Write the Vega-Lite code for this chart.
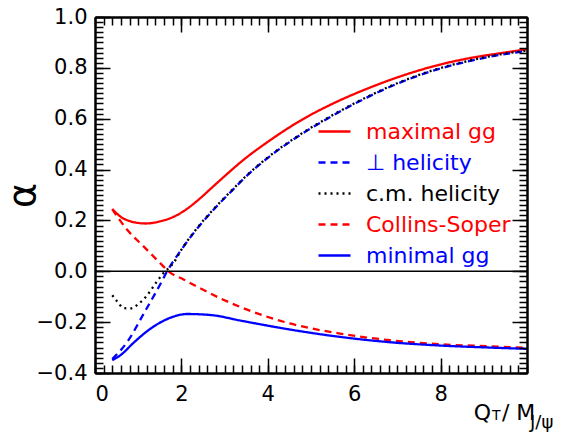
{
  "$schema": "https://vega.github.io/schema/vega-lite/v6.json",
  "width": 432,
  "height": 356,
  "autosize": {"type": "none"},
  "padding": {"left": 95, "top": 17, "right": 43, "bottom": 64},
  "config": {
    "view": {"stroke": null},
    "axis": {"grid": false, "domainColor": "black", "domainWidth": 2}
  },
  "data": {"values": [{"k": 1}]},
  "datasets": {
    "curves": [
      {"s": "maximal gg", "x": 0.4, "y": 0.245},
      {"s": "maximal gg", "x": 0.59, "y": 0.215},
      {"s": "maximal gg", "x": 0.83, "y": 0.196},
      {"s": "maximal gg", "x": 1.0, "y": 0.19},
      {"s": "maximal gg", "x": 1.17, "y": 0.188},
      {"s": "maximal gg", "x": 1.5, "y": 0.196},
      {"s": "maximal gg", "x": 1.83, "y": 0.215},
      {"s": "maximal gg", "x": 2.1, "y": 0.242},
      {"s": "maximal gg", "x": 2.4, "y": 0.282},
      {"s": "maximal gg", "x": 2.7, "y": 0.328},
      {"s": "maximal gg", "x": 3.0, "y": 0.374},
      {"s": "maximal gg", "x": 3.45, "y": 0.44},
      {"s": "maximal gg", "x": 4.0, "y": 0.509},
      {"s": "maximal gg", "x": 4.75, "y": 0.592},
      {"s": "maximal gg", "x": 5.5, "y": 0.659},
      {"s": "maximal gg", "x": 6.3, "y": 0.718},
      {"s": "maximal gg", "x": 7.06, "y": 0.766},
      {"s": "maximal gg", "x": 7.83, "y": 0.806},
      {"s": "maximal gg", "x": 8.6, "y": 0.836},
      {"s": "maximal gg", "x": 9.4, "y": 0.858},
      {"s": "maximal gg", "x": 10, "y": 0.873},

      {"s": "⊥ helicity", "x": 0.4, "y": -0.345},
      {"s": "⊥ helicity", "x": 0.75, "y": -0.277},
      {"s": "⊥ helicity", "x": 1.13, "y": -0.166},
      {"s": "⊥ helicity", "x": 1.52, "y": -0.048},
      {"s": "⊥ helicity", "x": 1.67, "y": 0.0},
      {"s": "⊥ helicity", "x": 2.0, "y": 0.085},
      {"s": "⊥ helicity", "x": 2.29, "y": 0.152},
      {"s": "⊥ helicity", "x": 2.83, "y": 0.258},
      {"s": "⊥ helicity", "x": 3.2, "y": 0.322},
      {"s": "⊥ helicity", "x": 3.45, "y": 0.365},
      {"s": "⊥ helicity", "x": 3.97, "y": 0.442},
      {"s": "⊥ helicity", "x": 4.75, "y": 0.536},
      {"s": "⊥ helicity", "x": 5.52, "y": 0.614},
      {"s": "⊥ helicity", "x": 6.29, "y": 0.683},
      {"s": "⊥ helicity", "x": 7.06, "y": 0.742},
      {"s": "⊥ helicity", "x": 7.83, "y": 0.789},
      {"s": "⊥ helicity", "x": 8.6, "y": 0.824},
      {"s": "⊥ helicity", "x": 9.38, "y": 0.851},
      {"s": "⊥ helicity", "x": 10, "y": 0.866},

      {"s": "c.m. helicity", "x": 0.4, "y": -0.094},
      {"s": "c.m. helicity", "x": 0.52, "y": -0.12},
      {"s": "c.m. helicity", "x": 0.67, "y": -0.145},
      {"s": "c.m. helicity", "x": 0.83, "y": -0.146},
      {"s": "c.m. helicity", "x": 1.02, "y": -0.126},
      {"s": "c.m. helicity", "x": 1.21, "y": -0.094},
      {"s": "c.m. helicity", "x": 1.4, "y": -0.048},
      {"s": "c.m. helicity", "x": 1.56, "y": -0.012},
      {"s": "c.m. helicity", "x": 1.83, "y": 0.036},
      {"s": "c.m. helicity", "x": 2.0, "y": 0.085},
      {"s": "c.m. helicity", "x": 2.29, "y": 0.154},
      {"s": "c.m. helicity", "x": 2.83, "y": 0.26},
      {"s": "c.m. helicity", "x": 3.2, "y": 0.324},
      {"s": "c.m. helicity", "x": 3.45, "y": 0.367},
      {"s": "c.m. helicity", "x": 3.97, "y": 0.444},
      {"s": "c.m. helicity", "x": 4.75, "y": 0.538},
      {"s": "c.m. helicity", "x": 5.52, "y": 0.616},
      {"s": "c.m. helicity", "x": 6.29, "y": 0.685},
      {"s": "c.m. helicity", "x": 7.06, "y": 0.744},
      {"s": "c.m. helicity", "x": 7.83, "y": 0.791},
      {"s": "c.m. helicity", "x": 8.6, "y": 0.826},
      {"s": "c.m. helicity", "x": 9.38, "y": 0.853},
      {"s": "c.m. helicity", "x": 10, "y": 0.868},

      {"s": "Collins-Soper", "x": 0.4, "y": 0.244},
      {"s": "Collins-Soper", "x": 0.75, "y": 0.162},
      {"s": "Collins-Soper", "x": 1.13, "y": 0.097},
      {"s": "Collins-Soper", "x": 1.52, "y": 0.03},
      {"s": "Collins-Soper", "x": 1.7, "y": 0.0},
      {"s": "Collins-Soper", "x": 2.06, "y": -0.033},
      {"s": "Collins-Soper", "x": 2.29, "y": -0.054},
      {"s": "Collins-Soper", "x": 2.91, "y": -0.107},
      {"s": "Collins-Soper", "x": 3.4, "y": -0.143},
      {"s": "Collins-Soper", "x": 4.51, "y": -0.205},
      {"s": "Collins-Soper", "x": 5.67, "y": -0.245},
      {"s": "Collins-Soper", "x": 6.83, "y": -0.271},
      {"s": "Collins-Soper", "x": 7.99, "y": -0.287},
      {"s": "Collins-Soper", "x": 9.14, "y": -0.295},
      {"s": "Collins-Soper", "x": 10, "y": -0.301},

      {"s": "minimal gg", "x": 0.4, "y": -0.35},
      {"s": "minimal gg", "x": 0.59, "y": -0.33},
      {"s": "minimal gg", "x": 0.9, "y": -0.28},
      {"s": "minimal gg", "x": 1.29, "y": -0.225},
      {"s": "minimal gg", "x": 1.67, "y": -0.188},
      {"s": "minimal gg", "x": 2.14, "y": -0.168},
      {"s": "minimal gg", "x": 2.68, "y": -0.172},
      {"s": "minimal gg", "x": 3.4, "y": -0.195},
      {"s": "minimal gg", "x": 4.51, "y": -0.229},
      {"s": "minimal gg", "x": 5.67, "y": -0.258},
      {"s": "minimal gg", "x": 6.83, "y": -0.279},
      {"s": "minimal gg", "x": 7.99, "y": -0.292},
      {"s": "minimal gg", "x": 9.14, "y": -0.3},
      {"s": "minimal gg", "x": 10, "y": -0.305}
    ]
  },
  "resolve": {"axis": {"x": "independent", "y": "independent"}},
  "layer": [
    {
      "data": {"name": "curves"},
      "mark": {"type": "line", "strokeWidth": 2.3, "interpolate": "monotone"},
      "encoding": {
        "x": {"field": "x", "type": "quantitative",
          "scale": {"domain": [0, 10], "nice": false, "zero": false},
          "axis": {"orient": "bottom", "zindex": 1, "ticks": true, "values": [0, 2, 4, 6, 8], "tickSize": -15, "tickColor": "black", "tickWidth": 1.5, "labelPadding": 25, "format": "d", "labelFont": "DejaVu Sans", "labelFontSize": 21, "labelColor": "black", "title": null}},
        "y": {"field": "y", "type": "quantitative",
          "scale": {"domain": [-0.4, 1.0], "nice": false, "zero": false},
          "axis": {"orient": "left", "zindex": 1, "ticks": true, "values": [-0.4, -0.2, 0, 0.2, 0.4, 0.6, 0.8, 1.0], "tickSize": -15, "tickColor": "black", "tickWidth": 1.5, "labelPadding": 23, "format": ".1f", "labelFont": "DejaVu Sans", "labelFontSize": 21, "labelColor": "black",
            "title": "α", "titleFont": "DejaVu Sans", "titleFontSize": 38, "titleFontWeight": "normal", "titleColor": "black",
            "titleX": -72, "titleY": 178, "titleAngle": -90, "titleAlign": "center", "titleBaseline": "middle"}},
        "color": {"field": "s", "type": "nominal",
          "scale": {"domain": ["maximal gg", "⊥ helicity", "c.m. helicity", "Collins-Soper", "minimal gg"],
                    "range": ["#ff0000", "#0000ff", "#000000", "#ff0000", "#0000ff"]},
          "legend": {"orient": "none", "legendX": 228, "legendY": 103, "title": null, "padding": 0,
            "symbolType": "M-1.6,0H1.6", "symbolSize": 400, "symbolStrokeWidth": 2.5,
            "labelFont": "DejaVu Sans", "labelFontSize": 22, "labelOffset": 20, "rowPadding": 8,
            "encode": {"labels": {"update": {"fill": {"scale": "color", "field": "value"}}}}}},
        "strokeDash": {"field": "s", "type": "nominal",
          "scale": {"domain": ["maximal gg", "⊥ helicity", "c.m. helicity", "Collins-Soper", "minimal gg"],
                    "range": [[1, 0], [7, 5], [2, 4], [7, 5], [1, 0]]},
          "legend": null}
      }
    },
    {
      "mark": {"type": "rule", "color": "black", "strokeWidth": 1.5},
      "encoding": {
        "y": {"datum": 0, "type": "quantitative", "scale": {"domain": [-0.4, 1.0], "nice": false, "zero": false}, "axis": null}
      }
    },
    {
      "mark": {"type": "text", "text": "Q", "font": "DejaVu Sans", "fontSize": 22, "align": "left", "baseline": "alphabetic", "color": "black"},
      "encoding": {
        "x": {"datum": 8.77, "type": "quantitative", "scale": {"domain": [0, 10], "nice": false, "zero": false},
          "axis": {"orient": "bottom", "zindex": 1, "ticks": true, "tickCount": 50, "tickSize": -8, "tickColor": "black", "tickWidth": 1.5, "labels": false, "title": null}},
        "y": {"datum": -0.586, "type": "quantitative", "scale": {"domain": [-0.4, 1.0], "nice": false, "zero": false},
          "axis": {"orient": "left", "zindex": 1, "ticks": true, "tickCount": 70, "tickSize": -8, "tickColor": "black", "tickWidth": 1.5, "labels": false, "title": null}}
      }
    },
    {
      "mark": {"type": "text", "text": "T", "font": "DejaVu Sans", "fontSize": 14, "align": "left", "baseline": "alphabetic", "color": "black"},
      "encoding": {
        "x": {"datum": 9.19, "type": "quantitative", "scale": {"domain": [0, 10], "nice": false, "zero": false},
          "axis": {"orient": "top", "zindex": 1, "ticks": true, "values": [2, 4, 6, 8], "tickSize": -15, "tickColor": "black", "tickWidth": 1.5, "labels": false, "title": null}},
        "y": {"datum": -0.586, "type": "quantitative", "scale": {"domain": [-0.4, 1.0], "nice": false, "zero": false},
          "axis": {"orient": "right", "zindex": 1, "ticks": true, "values": [-0.2, 0, 0.2, 0.4, 0.6, 0.8], "tickSize": -15, "tickColor": "black", "tickWidth": 1.5, "labels": false, "title": null}}
      }
    },
    {
      "mark": {"type": "text", "text": "/ M", "font": "DejaVu Sans", "fontSize": 22, "align": "left", "baseline": "alphabetic", "color": "black"},
      "encoding": {
        "x": {"datum": 9.42, "type": "quantitative", "scale": {"domain": [0, 10], "nice": false, "zero": false},
          "axis": {"orient": "top", "zindex": 1, "ticks": true, "tickCount": 50, "tickSize": -8, "tickColor": "black", "tickWidth": 1.5, "labels": false, "title": null}},
        "y": {"datum": -0.586, "type": "quantitative", "scale": {"domain": [-0.4, 1.0], "nice": false, "zero": false},
          "axis": {"orient": "right", "zindex": 1, "ticks": true, "tickCount": 70, "tickSize": -8, "tickColor": "black", "tickWidth": 1.5, "labels": false, "title": null}}
      }
    },
    {
      "mark": {"type": "text", "text": "J/ψ", "font": "DejaVu Sans", "fontSize": 18, "align": "left", "baseline": "alphabetic", "color": "black"},
      "encoding": {
        "x": {"datum": 10.07, "type": "quantitative", "scale": {"domain": [0, 10], "nice": false, "zero": false}, "axis": null},
        "y": {"datum": -0.618, "type": "quantitative", "scale": {"domain": [-0.4, 1.0], "nice": false, "zero": false}, "axis": null}
      }
    }
  ]
}
